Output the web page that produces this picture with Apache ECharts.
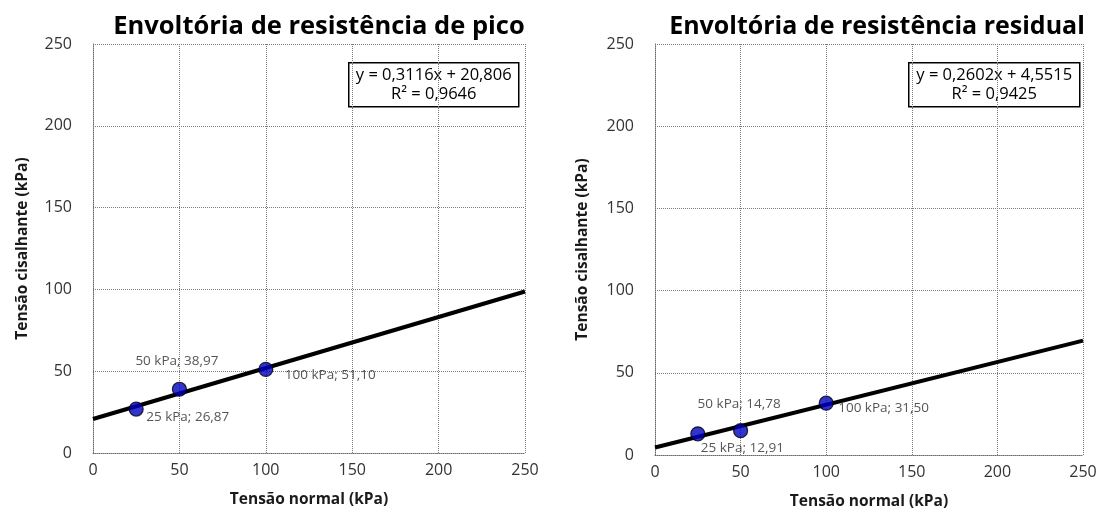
<!DOCTYPE html>
<html>
<head>
<meta charset="utf-8">
<script src="https://cdn.jsdelivr.net/npm/echarts@6/dist/echarts.min.js"></script>
<style>
  html, body { margin: 0; padding: 0; background: #fff; }
  #chart { width: 1103px; height: 518px; }
</style>
</head>
<body>
<div id="chart"></div>
<script>
// Direct shear test: peak and residual strength envelopes
const normalStress = [25, 50, 100];            // kPa
const peakShear = [26.87, 38.97, 51.10];       // kPa
const residualShear = [12.91, 14.78, 31.50];   // kPa

// Linear fits reported on each panel
const peakFit = { slope: 0.3116, intercept: 20.806, r2: 0.9646, slopeText: '0,3116', interceptText: '20,806', r2Text: '0,9646' };
const residualFit = { slope: 0.2602, intercept: 4.5515, r2: 0.9425, slopeText: '0,2602', interceptText: '4,5515', r2Text: '0,9425' };

const axisTicks = [0, 50, 100, 150, 200, 250];
const axisMin = 0, axisMax = 250, axisStep = 50;

const titles = ['Envoltória de resistência de pico', 'Envoltória de resistência residual'];
const xName = 'Tensão normal (kPa)';
const yName = 'Tensão cisalhante (kPa)';

// label offsets per point (left edge / vertical centre relative to the marker)
const peakLabelOffsets = [[10, 8], [-44, -28], [19, 6]];
const residualLabelOffsets = [[3, 14], [-43, -27], [12, 5]];

const FONT = '"Open Sans", Lato, sans-serif';
const fmt = v => v.toFixed(2).replace('.', ',');

function scatterData(ys, offsets) {
  return normalStress.map((x, i) => ({
    value: [x, ys[i]],
    label: {
      show: true,
      position: 'inside',
      align: 'left',
      verticalAlign: 'middle',
      offset: offsets[i],
      formatter: x + ' kPa; ' + fmt(ys[i]),
      color: '#2b2b2b',
      fontSize: 13.5,
      fontFamily: FONT
    }
  }));
}

function fitLine(fit) {
  return [[axisMin, fit.intercept], [axisMax, fit.slope * axisMax + fit.intercept]];
}

function xAxisOf(idx) {
  return {
    gridIndex: idx, type: 'value', min: axisMin, max: axisMax, interval: axisStep,
    name: xName, nameLocation: 'middle', nameGap: 39,
    nameTextStyle: { fontFamily: FONT, fontWeight: 'bold', fontSize: 15.5, color: '#1a1a1a' },
    axisLine: { show: true, lineStyle: { color: '#6a6a6a', type: 'dotted', width: 1 } },
    axisTick: { show: false },
    axisLabel: { fontFamily: FONT, fontSize: 16, color: '#333', margin: 9,
      formatter: v => axisTicks.includes(v) ? String(v) : '' },
    splitLine: { show: true, lineStyle: { color: '#7a7a7a', type: 'dotted', width: 1 } }
  };
}

function yAxisOf(idx, gap) {
  return {
    gridIndex: idx, type: 'value', min: axisMin, max: axisMax, interval: axisStep,
    name: yName, nameLocation: 'middle', nameGap: gap, nameRotate: 90,
    nameTextStyle: { fontFamily: FONT, fontWeight: 'bold', fontSize: 15.5, color: '#1a1a1a' },
    axisLine: { show: true, lineStyle: { color: '#6a6a6a', type: 'dotted', width: 1 } },
    axisTick: { show: false },
    axisLabel: { fontFamily: FONT, fontSize: 16, color: '#333', margin: 21,
      formatter: v => axisTicks.includes(v) ? String(v) : '' },
    splitLine: { show: true, lineStyle: { color: '#7a7a7a', type: 'dotted', width: 1 } }
  };
}

function equationBox(fit, x, y, w, h) {
  return {
    type: 'group', left: x, top: y, z: 100,
    children: [
      { type: 'rect', shape: { x: 0, y: 0, width: w, height: h },
        style: { fill: '#fff', stroke: '#000', lineWidth: 1.5 } },
      { type: 'text', x: w / 2, y: 13,
        style: { text: 'y = ' + fit.slopeText + 'x + ' + fit.interceptText, fill: '#000',
          font: '16.5px ' + FONT, textAlign: 'center', textVerticalAlign: 'middle' } },
      { type: 'text', x: w / 2, y: 32,
        style: { text: 'R² = ' + fit.r2Text, fill: '#000',
          font: '16.5px ' + FONT, textAlign: 'center', textVerticalAlign: 'middle' } }
    ]
  };
}

const chart = echarts.init(document.getElementById('chart'), null, { renderer: 'canvas' });

chart.setOption({
  backgroundColor: '#fff',
  animation: false,
  title: [
    { text: titles[0], left: 314, top: 9, textAlign: 'center',
      textStyle: { fontFamily: FONT, fontWeight: 'bold', fontSize: 25.5, color: '#000' } },
    { text: titles[1], left: 872, top: 9, textAlign: 'center',
      textStyle: { fontFamily: FONT, fontWeight: 'bold', fontSize: 25, color: '#000' } }
  ],
  grid: [
    { left: 93, top: 44, width: 432, height: 409 },
    { left: 655, top: 44, width: 428, height: 411 }
  ],
  xAxis: [xAxisOf(0), xAxisOf(1)],
  yAxis: [yAxisOf(0, 62), yAxisOf(1, 64)],
  graphic: [
    equationBox(peakFit, 348, 62, 170, 44),
    equationBox(residualFit, 908, 62, 171, 44)
  ],
  series: [
    { type: 'line', xAxisIndex: 0, yAxisIndex: 0, data: fitLine(peakFit),
      showSymbol: false, symbol: 'none', lineStyle: { color: '#000', width: 4 }, z: 2, silent: true },
    { type: 'scatter', xAxisIndex: 0, yAxisIndex: 0, data: scatterData(peakShear, peakLabelOffsets),
      symbolSize: 14, itemStyle: { color: '#0000c0', borderColor: '#000', borderWidth: 1.2 }, z: 3 },
    { type: 'line', xAxisIndex: 1, yAxisIndex: 1, data: fitLine(residualFit),
      showSymbol: false, symbol: 'none', lineStyle: { color: '#000', width: 4 }, z: 2, silent: true },
    { type: 'scatter', xAxisIndex: 1, yAxisIndex: 1, data: scatterData(residualShear, residualLabelOffsets),
      symbolSize: 14, itemStyle: { color: '#0000c0', borderColor: '#000', borderWidth: 1.2 }, z: 3 }
  ]
});
</script>
</body>
</html>
